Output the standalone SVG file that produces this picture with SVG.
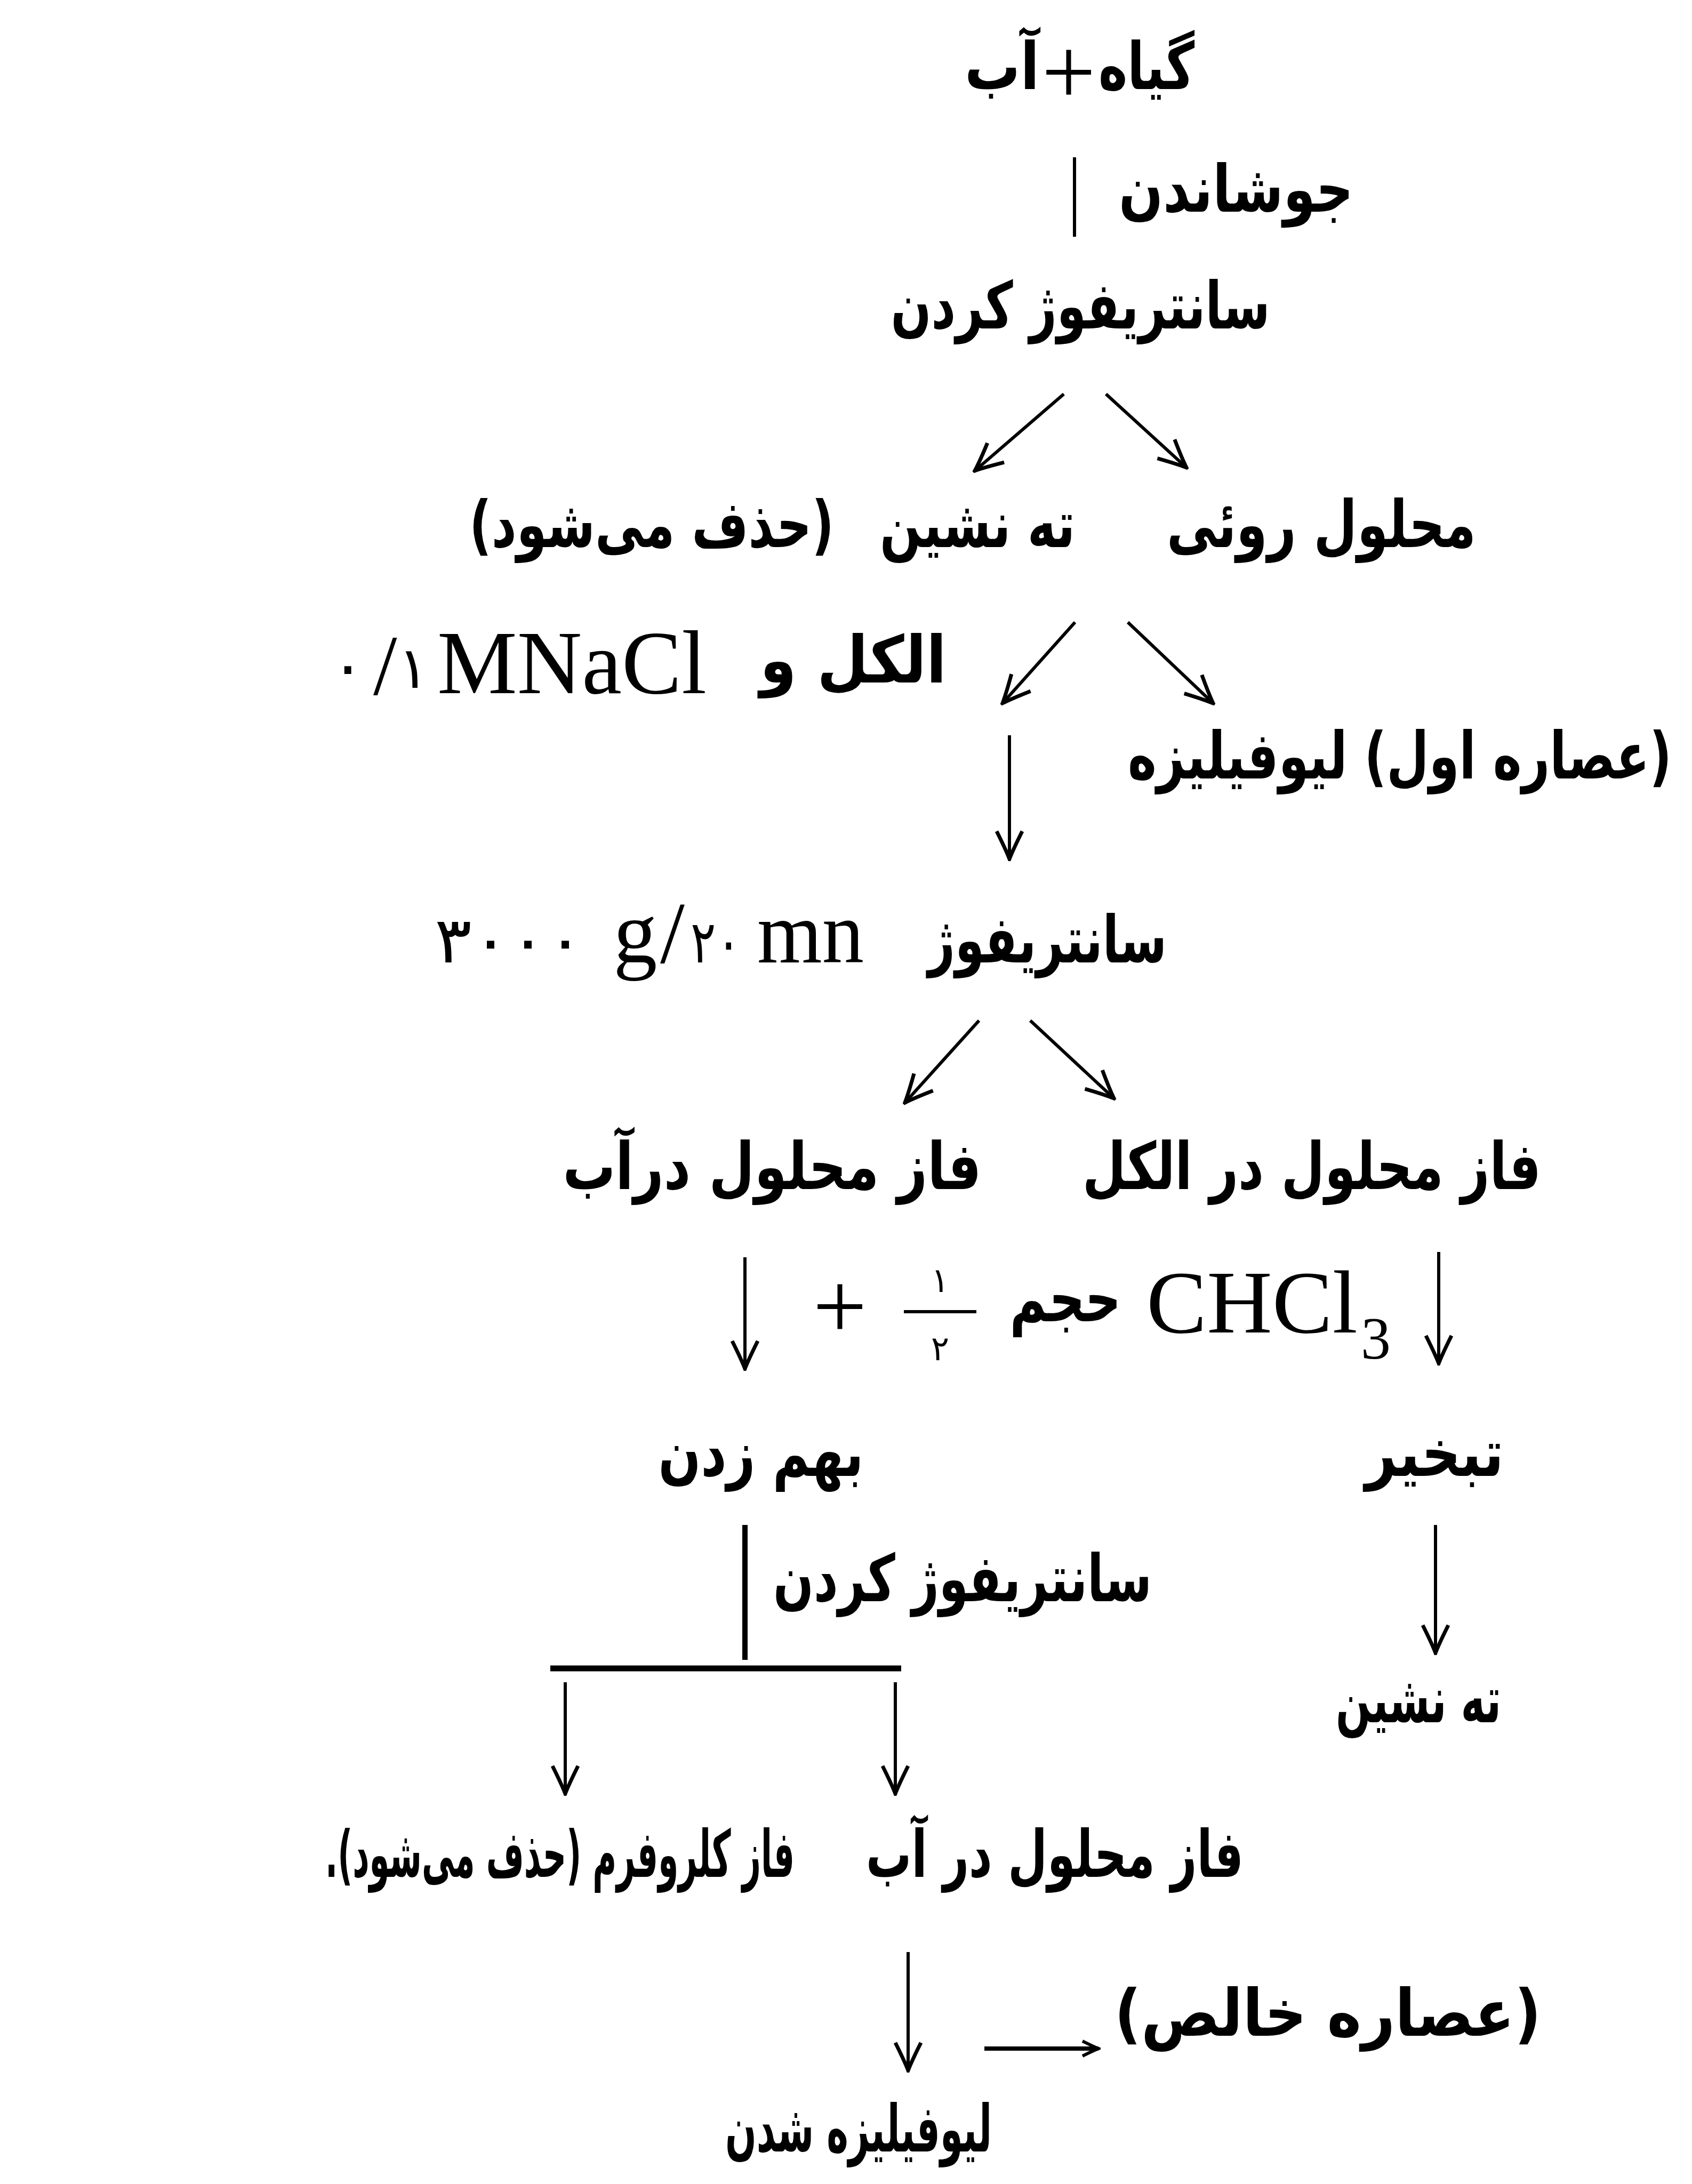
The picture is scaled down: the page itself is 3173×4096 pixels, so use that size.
<svg xmlns="http://www.w3.org/2000/svg" width="3173" height="4096" viewBox="0 0 3173 4096">
<style>
.ar{font-family:"DejaVu Sans",sans-serif;font-weight:bold;font-size:122px;fill:#000;text-anchor:middle;direction:rtl}
.la{font-family:"Liberation Serif","DejaVu Serif",serif;fill:#000}
.dg{font-family:"DejaVu Sans",sans-serif;fill:#000}
.ln{stroke:#000;stroke-width:6;fill:none}
.arr{marker-end:url(#ah)}
.arrs{marker-end:url(#ahs)}
</style>
<defs>
<marker id="ah" markerUnits="userSpaceOnUse" viewBox="-60 -30 64 60" markerWidth="64" markerHeight="60" refX="0" refY="0" orient="auto">
<path d="M-52,-24 Q-18,-7 0,0 Q-18,7 -52,24" fill="none" stroke="#000" stroke-width="7"/>
</marker>
<marker id="ahs" markerUnits="userSpaceOnUse" viewBox="-40 -20 44 40" markerWidth="44" markerHeight="40" refX="0" refY="0" orient="auto">
<path d="M-30,-14 Q-10,-4 0,0 Q-10,4 -30,14" fill="none" stroke="#000" stroke-width="6"/>
</marker>
</defs>
<rect width="3173" height="4096" fill="#fff"/>

<g id="connectors">
<line class="ln" x1="2015" y1="295" x2="2015" y2="444"/>
<line class="ln arr" x1="1995" y1="739" x2="1828" y2="883"/>
<line class="ln arr" x1="2074" y1="739" x2="2225" y2="877"/>
<line class="ln arr" x1="2016" y1="1167" x2="1880" y2="1319"/>
<line class="ln arr" x1="2115" y1="1167" x2="2275" y2="1319"/>
<line class="ln arr" x1="1893" y1="1379" x2="1893" y2="1611"/>
<line class="ln arr" x1="1836" y1="1914" x2="1697" y2="2068"/>
<line class="ln arr" x1="1932" y1="1914" x2="2089" y2="2060"/>
<line class="ln arr" x1="1397" y1="2358" x2="1397" y2="2567"/>
<line class="ln arr" x1="2698" y1="2348" x2="2698" y2="2557"/>
<line class="ln" x1="1397" y1="2860" x2="1397" y2="3113" style="stroke-width:10"/>
<line class="ln arr" x1="2692" y1="2860" x2="2692" y2="3100"/>
<line class="ln" x1="1032" y1="3129" x2="1690" y2="3129" style="stroke-width:11"/>
<line class="ln arr" x1="1060" y1="3155" x2="1060" y2="3364"/>
<line class="ln arr" x1="1679" y1="3155" x2="1679" y2="3364"/>
<line class="ln arr" x1="1703" y1="3661" x2="1703" y2="3883"/>
<line class="ln arrs" x1="1846" y1="3842" x2="2060" y2="3842" style="stroke-width:8"/>
</g>

<g id="n1">
<text class="ar" x="2150" y="167" textLength="180" lengthAdjust="spacingAndGlyphs">گیاه</text>
<text class="la" x="2004" y="195" font-size="180" text-anchor="middle">+</text>
<text class="ar" x="1879" y="167" textLength="140" lengthAdjust="spacingAndGlyphs">آب</text>
</g>
<g id="n2"><text class="ar" x="2318" y="397" textLength="440" lengthAdjust="spacingAndGlyphs">جوشاندن</text></g>
<g id="n3"><text class="ar" x="2026" y="616" textLength="711" lengthAdjust="spacingAndGlyphs">سانتریفوژ کردن</text></g>
<g id="n4a"><text class="ar" x="2478" y="1026" textLength="580" lengthAdjust="spacingAndGlyphs">محلول روئی</text></g>
<g id="n4b">
<text class="ar" x="1833" y="1026" font-size="110" textLength="366" lengthAdjust="spacingAndGlyphs">ته نشین</text>
<text class="ar" x="1222" y="1026" font-size="104" textLength="684" lengthAdjust="spacingAndGlyphs">(حذف می‌شود)</text>
</g>
<g id="n5">
<text class="dg" x="620" y="1290" font-size="120">۰</text>
<text class="la" x="700" y="1302" font-size="160">/</text>
<text class="dg" x="746" y="1290" font-size="108">۱</text>
<text class="la" x="820" y="1300" font-size="170" textLength="505" lengthAdjust="spacingAndGlyphs">MNaCl</text>
<text class="ar" x="1600" y="1280" textLength="350" lengthAdjust="spacingAndGlyphs">الکل و</text>
</g>
<g id="n6"><text class="ar" x="2625" y="1460" font-size="96" textLength="1020" lengthAdjust="spacingAndGlyphs">(عصاره اول) لیوفیلیزه</text></g>
<g id="n7">
<text class="ar" x="1964" y="1805" textLength="448" lengthAdjust="spacingAndGlyphs">سانتریفوژ</text>
<text class="dg" x="815" y="1805" font-size="120" textLength="280" lengthAdjust="spacingAndGlyphs">۳۰۰۰</text>
<text class="la" x="1150" y="1805" font-size="165">g</text>
<text class="la" x="1238" y="1805" font-size="165">/</text>
<text class="dg" x="1295" y="1805" font-size="110" textLength="95" lengthAdjust="spacingAndGlyphs">۲۰</text>
<text class="la" x="1420" y="1805" font-size="165" textLength="200" lengthAdjust="spacingAndGlyphs">mn</text>
</g>
<g id="n8a"><text class="ar" x="2460" y="2230" textLength="860" lengthAdjust="spacingAndGlyphs">فاز محلول در الکل</text></g>
<g id="n8b"><text class="ar" x="1448" y="2230" textLength="785" lengthAdjust="spacingAndGlyphs">فاز محلول درآب</text></g>
<g id="n9">
<text class="la" x="1575" y="2510" font-size="180" text-anchor="middle">+</text>
<text class="dg" x="1763" y="2423" font-size="64" text-anchor="middle">۱</text>
<line class="ln" x1="1695" y1="2460" x2="1831" y2="2460"/>
<text class="dg" x="1763" y="2551" font-size="64" text-anchor="middle">۲</text>
<text class="ar" x="1998" y="2478" textLength="209" lengthAdjust="spacingAndGlyphs">حجم</text>
<text class="la" x="2150" y="2499" font-size="168" textLength="396" lengthAdjust="spacingAndGlyphs">CHCl</text>
<text class="la" x="2552" y="2548" font-size="112">3</text>
</g>
<g id="n10a"><text class="ar" x="1427" y="2768" textLength="385" lengthAdjust="spacingAndGlyphs">بهم زدن</text></g>
<g id="n10b"><text class="ar" x="2690" y="2768" textLength="260" lengthAdjust="spacingAndGlyphs">تبخیر</text></g>
<g id="n11"><text class="ar" x="1805" y="3003" textLength="710" lengthAdjust="spacingAndGlyphs">سانتریفوژ کردن</text></g>
<g id="n12"><text class="ar" x="2660" y="3230" textLength="310" lengthAdjust="spacingAndGlyphs">ته نشین</text></g>
<g id="n13a"><text class="ar" x="1978" y="3520" font-size="108" textLength="708" lengthAdjust="spacingAndGlyphs">فاز محلول در آب</text></g>
<g id="n13b"><text class="ar" x="1050" y="3520" font-size="100" textLength="880" lengthAdjust="spacingAndGlyphs">فاز کلروفرم (حذف می‌شود).</text></g>
<g id="n14"><text class="ar" x="2490" y="3818" textLength="800" lengthAdjust="spacingAndGlyphs">(عصاره خالص)</text></g>
<g id="n15"><text class="ar" x="1610" y="4035" font-size="112" textLength="500" lengthAdjust="spacingAndGlyphs">لیوفیلیزه شدن</text></g>
</svg>
